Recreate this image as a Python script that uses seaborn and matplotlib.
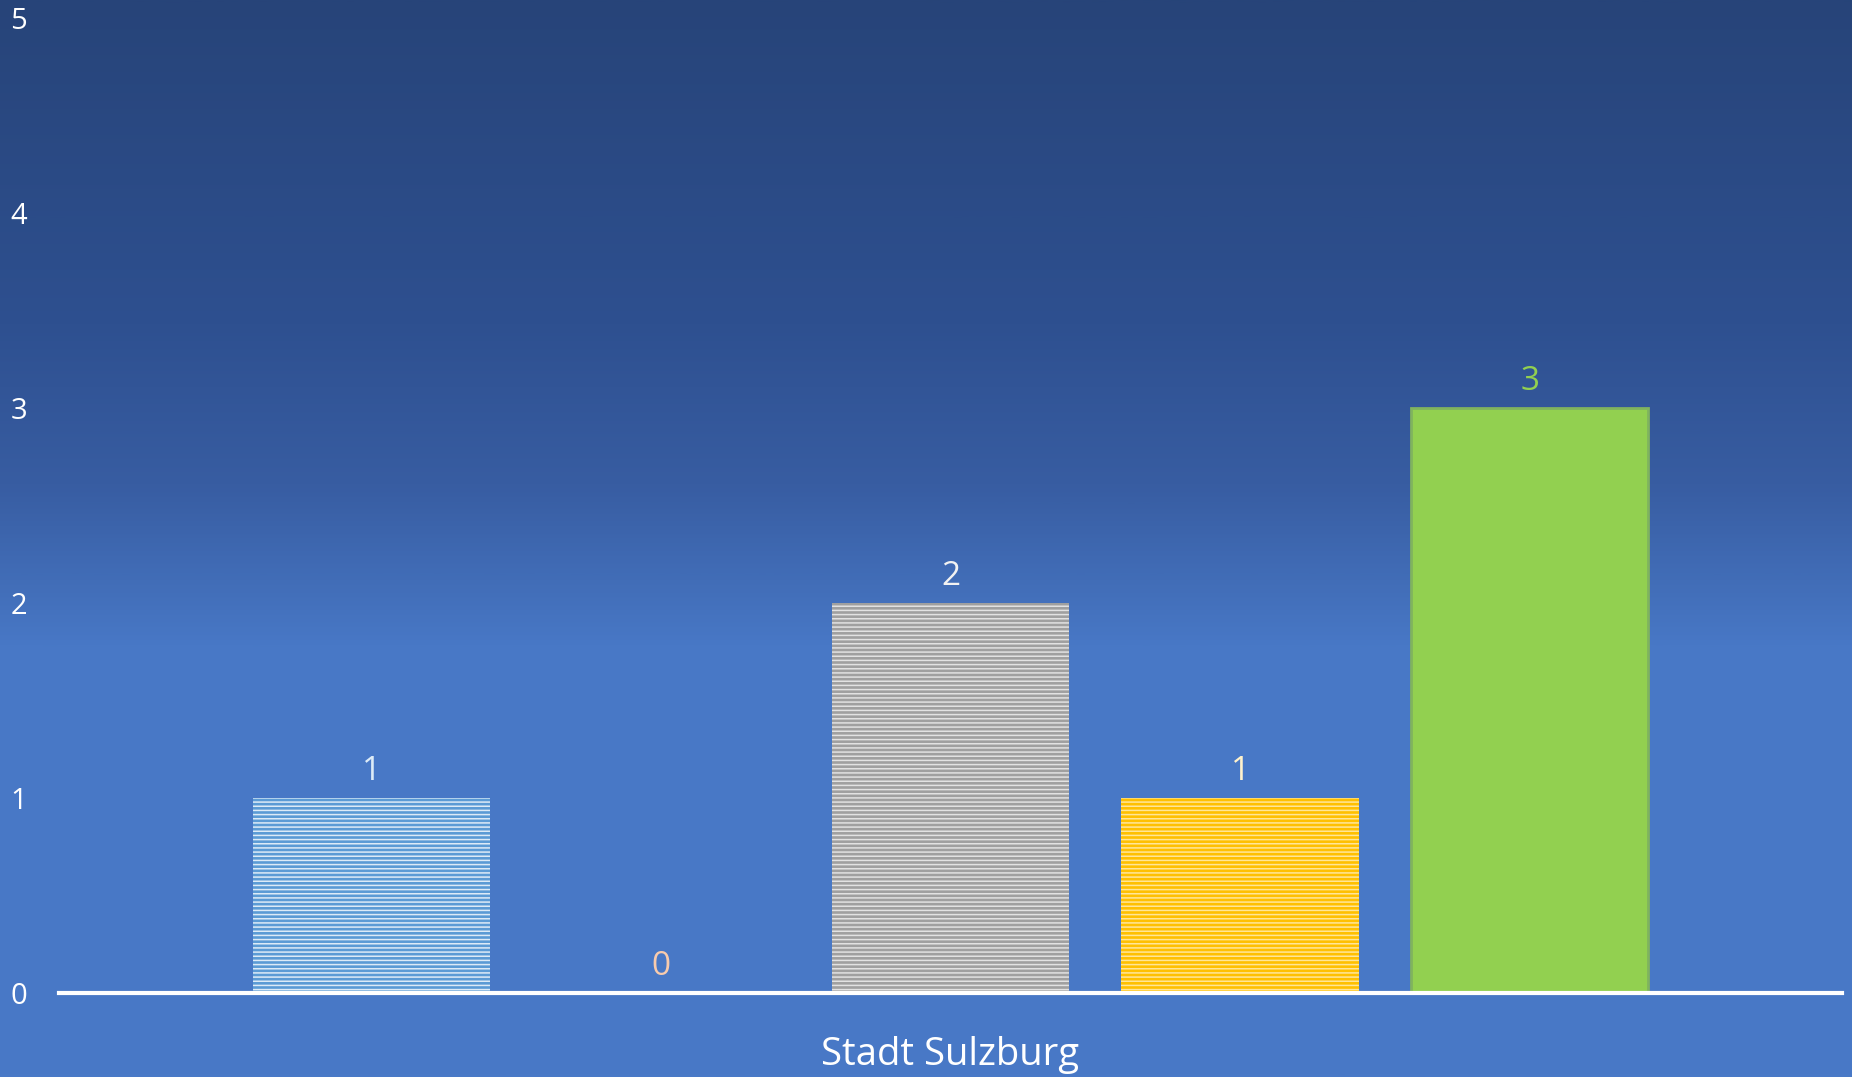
import numpy as np
import seaborn as sns
import matplotlib.pyplot as plt
from matplotlib.colors import LinearSegmentedColormap

# --- data -------------------------------------------------------------------
category = "Stadt Sulzburg"
series = ["Serie 1", "Serie 2", "Serie 3", "Serie 4", "Serie 5"]
values = [1, 0, 2, 1, 3]

# bar fill, stripe colour, label colour per series
fill_colors = ["#5B9BD5", "#ED7D31", "#A0A0A0", "#FFC000", "#92D050"]
stripe_colors = ["#DDEBF7", "#F8CBAD", "#E2E2E2", "#FFE699", None]
label_colors = ["#DDEBF7", "#F8CBAD", "#F2F2F2", "#FFF2CC", "#92D050"]

sns.set_style("white")
plt.rcParams["font.family"] = ["Open Sans", "DejaVu Sans"]
plt.rcParams["hatch.linewidth"] = 1.1

fig = plt.figure(figsize=(18.52, 10.77), dpi=100)

# background gradient over the whole figure
bg = fig.add_axes([0, 0, 1, 1], zorder=0)
grad_cmap = LinearSegmentedColormap.from_list(
    "bg",
    [(0.0, "#274479"), (0.3, "#2E5090"), (0.45, "#385DA2"),
     (0.6, "#4878C6"), (1.0, "#4979C7")],
)
bg.imshow(np.linspace(0, 1, 512).reshape(-1, 1), aspect="auto",
          cmap=grad_cmap, extent=[0, 1, 1, 0])
bg.set_axis_off()

ax = fig.add_axes([59 / 1852, 84 / 1077, 1783 / 1852, 975 / 1077], zorder=1)
ax.patch.set_alpha(0)

df_x = [category] * len(series)
sns.barplot(x=df_x, y=values, hue=series, palette=fill_colors,
            width=0.812, gap=0.18, legend=False, saturation=1, ax=ax)

for cont, stripe, lab_col in zip(ax.containers, stripe_colors, label_colors):
    for bar in cont:
        if stripe:
            bar.set_hatch("----")
            bar.set_edgecolor(stripe)
            bar.set_linewidth(0)
        else:
            bar.set_edgecolor("#80B35E")
            bar.set_linewidth(2)
    ax.bar_label(cont, labels=[f"{v:g}" for v in cont.datavalues],
                 padding=7, fontsize=24, color=lab_col)

ax.set_ylim(0, 5)
ax.set_xlim(-0.5, 0.5)
ax.set_yticks(range(0, 6))
ax.tick_params(axis="y", length=0, pad=23, labelsize=21, labelcolor="white")
ax.tick_params(axis="x", length=0, pad=31, labelsize=27.5, labelcolor="white")
ax.set_xlabel("")
ax.set_ylabel("")

for side in ["top", "right", "left"]:
    ax.spines[side].set_visible(False)
ax.spines["bottom"].set_color("white")
ax.spines["bottom"].set_linewidth(3)
ax.spines["bottom"].set_zorder(5)

fig.savefig("out.png", dpi=100)
